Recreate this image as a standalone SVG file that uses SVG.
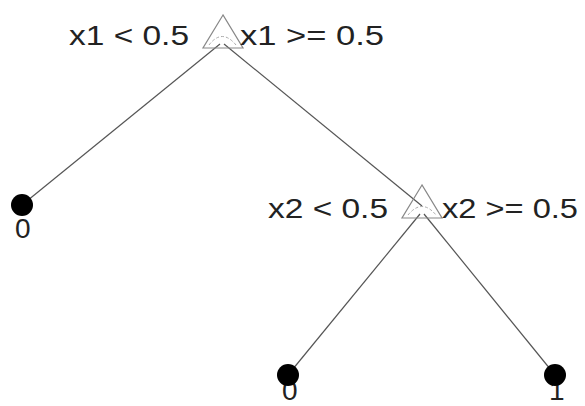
<svg xmlns="http://www.w3.org/2000/svg" width="585" height="406" viewBox="0 0 585 406">
<style>
.lbl{font-family:"Liberation Sans",Arial,sans-serif;font-size:28px;fill:#222}
.edge{stroke:#555;stroke-width:1.2;fill:none}
.tri{stroke:#888;stroke-width:1.2;fill:none}
.inner{stroke:#aaa;stroke-width:1;fill:none;stroke-dasharray:3 2}
.leaf{fill:#000}
</style>
<rect width="585" height="406" fill="#fff"/>
<g id="connectors">
<line class="edge" x1="220" y1="44" x2="22" y2="205"/>
<line class="edge" x1="224" y1="44" x2="422" y2="206"/>
<line class="edge" x1="420" y1="214" x2="288" y2="375"/>
<line class="edge" x1="424" y1="214" x2="555" y2="375"/>
</g>
<g id="root">
<polygon class="tri" points="223,15 203,48 243,48"/>
<path class="inner" d="M209,45 Q222,28 236,45"/>
<text class="lbl" x="69" y="45" textLength="120" lengthAdjust="spacingAndGlyphs">x1 &lt; 0.5</text>
<text class="lbl" x="240" y="45" textLength="144" lengthAdjust="spacingAndGlyphs">x1 &gt;= 0.5</text>
</g>
<g id="node2">
<polygon class="tri" points="422,185 402,218 442,218"/>
<path class="inner" d="M408,215 Q422,198 436,215"/>
<text class="lbl" x="268" y="218" textLength="120" lengthAdjust="spacingAndGlyphs">x2 &lt; 0.5</text>
<text class="lbl" x="442" y="218" textLength="136" lengthAdjust="spacingAndGlyphs">x2 &gt;= 0.5</text>
</g>
<g id="leaf1">
<text class="lbl" x="15" y="238" font-size="27">0</text>
<circle class="leaf" cx="22" cy="205" r="11"/>
</g>
<g id="leaf2">
<text class="lbl" x="282" y="400" font-size="23">0</text>
<circle class="leaf" cx="288" cy="375" r="11"/>
</g>
<g id="leaf3">
<text class="lbl" x="549" y="400" font-size="23">1</text>
<circle class="leaf" cx="555" cy="375" r="11"/>
</g>
</svg>
